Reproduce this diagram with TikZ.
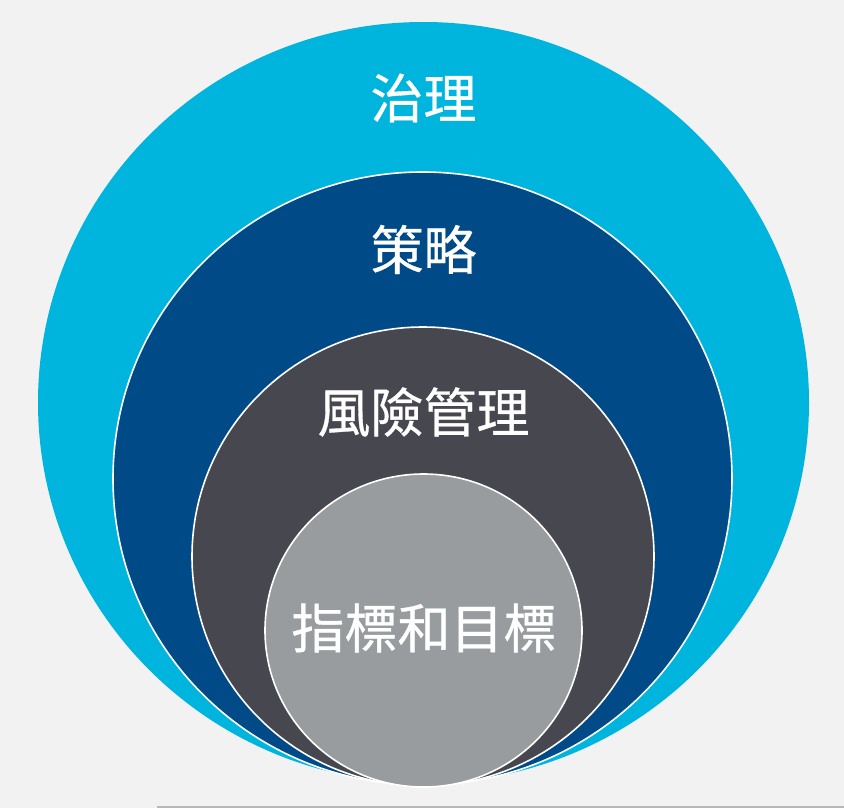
\documentclass[tikz,border=0pt]{standalone}
\usepackage{fontspec}
\newfontfamily\cjk[FakeBold=0.6]{Noto Sans CJK TC}
\definecolor{bgc}{HTML}{F2F2F2}
\definecolor{cyanc}{HTML}{00B5DD}
\definecolor{navyc}{HTML}{004B87}
\definecolor{slatec}{HTML}{46474F}
\definecolor{greyc}{HTML}{989C9F}
\definecolor{linec}{HTML}{B8B8B8}
\tikzset{
  ring/.style={draw=white, line width=1.6pt},
  lbl/.style={text=white, font=\cjk\fontsize{53}{60}\selectfont, inner sep=0pt, anchor=center}
}
\begin{document}
\begin{tikzpicture}[x=1pt,y=-1pt]
\useasboundingbox (0,0) rectangle (844,808);
\fill[bgc] (0,0) rectangle (844,808);
\coordinate (ls) at (157,807);
\coordinate (le) at (844,807);
\draw[linec, line width=2pt] (ls) -- (le);
\fill[cyanc] (423.5,402.5) ellipse [x radius=385.5, y radius=380.5];
\filldraw[fill=navyc, ring] (422.5,478.5) ellipse [x radius=309.5, y radius=306.5];
\filldraw[fill=slatec, ring] (423,556.5) ellipse [x radius=231, y radius=229.5];
\filldraw[fill=greyc, ring] (423.5,630.5) ellipse [x radius=158.5, y radius=156.5];
\node[lbl] (t1) at (423.5,98) {治理};
\node[lbl] (t2) at (423.5,249.5) {策略};
\node[lbl] (t3) at (423.5,412) {風險管理};
\node[lbl] (t4) at (424,628) {指標和目標};
\end{tikzpicture}
\end{document}
